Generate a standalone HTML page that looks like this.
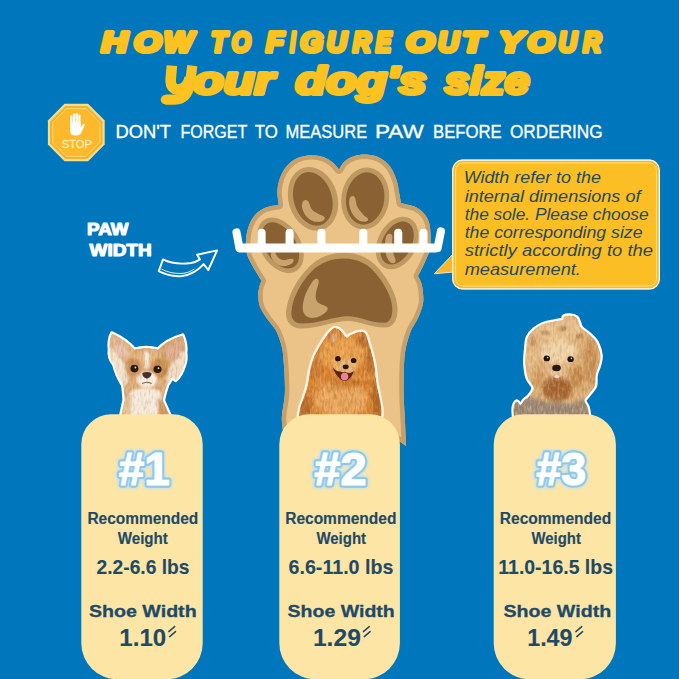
<!DOCTYPE html>
<html>
<head>
<meta charset="utf-8">
<title>How to figure out your dog's size</title>
<style>
  html, body { margin: 0; padding: 0; background: #0076BD; }
  body { width: 679px; height: 679px; overflow: hidden; font-family: "Liberation Sans", sans-serif; }
  svg { display: block; }
  text { font-family: "Liberation Sans", sans-serif; }
</style>
</head>
<body>
<svg width="679" height="679" viewBox="0 0 679 679">
  <defs>
    <filter id="glow" x="-20%" y="-20%" width="140%" height="140%">
      <feGaussianBlur stdDeviation="1.2"/>
    </filter>
  </defs>
  <rect x="0" y="0" width="679" height="679" fill="#0076BD"/>

  <!-- ===== TITLE ===== -->
  <g id="title" fill="#FCC21F" stroke="#FCC21F" stroke-linejoin="round" font-weight="bold" font-style="italic">
    <text id="tl0" x="101.48" y="52.3" font-size="28.6" stroke-width="4.2" textLength="25.84" lengthAdjust="spacingAndGlyphs">H</text>
    <text id="tl1" x="133.95" y="52.3" font-size="28.6" stroke-width="4.2" textLength="27.24" lengthAdjust="spacingAndGlyphs">O</text>
    <text id="tl2" x="163.65" y="52.3" font-size="28.6" stroke-width="4.2" textLength="29.57" lengthAdjust="spacingAndGlyphs">W</text>
    <text id="tl3" x="210.97" y="52.3" font-size="28.6" stroke-width="4.2" textLength="15.71" lengthAdjust="spacingAndGlyphs">T</text>
    <text id="tl4" x="231.78" y="52.3" font-size="28.6" stroke-width="4.2" textLength="18.89" lengthAdjust="spacingAndGlyphs">O</text>
    <text id="tl5" x="265.95" y="52.3" font-size="28.6" stroke-width="4.2" textLength="17.82" lengthAdjust="spacingAndGlyphs">F</text>
    <text id="tl6" x="289.89" y="52.3" font-size="28.6" stroke-width="4.2" textLength="5.35" lengthAdjust="spacingAndGlyphs">I</text>
    <text id="tl7" x="300.27" y="52.3" font-size="28.6" stroke-width="4.2" textLength="22.78" lengthAdjust="spacingAndGlyphs">G</text>
    <text id="tl8" x="326.65" y="52.3" font-size="28.6" stroke-width="4.2" textLength="20.00" lengthAdjust="spacingAndGlyphs">U</text>
    <text id="tl9" x="352.71" y="52.3" font-size="28.6" stroke-width="4.2" textLength="18.22" lengthAdjust="spacingAndGlyphs">R</text>
    <text id="tl10" x="375.65" y="52.3" font-size="28.6" stroke-width="4.2" textLength="15.45" lengthAdjust="spacingAndGlyphs">E</text>
    <text id="tl11" x="406.02" y="52.3" font-size="28.6" stroke-width="4.2" textLength="28.34" lengthAdjust="spacingAndGlyphs">O</text>
    <text id="tl12" x="438.03" y="52.3" font-size="28.6" stroke-width="4.2" textLength="20.77" lengthAdjust="spacingAndGlyphs">U</text>
    <text id="tl13" x="462.38" y="52.3" font-size="28.6" stroke-width="4.2" textLength="21.43" lengthAdjust="spacingAndGlyphs">T</text>
    <text id="tl14" x="498.92" y="52.3" font-size="28.6" stroke-width="4.2" textLength="24.29" lengthAdjust="spacingAndGlyphs">Y</text>
    <text id="tl15" x="527.56" y="52.3" font-size="28.6" stroke-width="4.2" textLength="26.73" lengthAdjust="spacingAndGlyphs">O</text>
    <text id="tl16" x="558.59" y="52.3" font-size="28.6" stroke-width="4.2" textLength="18.37" lengthAdjust="spacingAndGlyphs">U</text>
    <text id="tl17" x="582.91" y="52.3" font-size="28.6" stroke-width="4.2" textLength="18.13" lengthAdjust="spacingAndGlyphs">R</text>
    <g id="ti6" fill="none" stroke-linejoin="round"><path d="M171.9,65.6 L170.7,79 C170.2,86.5 173.6,89.8 178.8,89.4 C184.6,88.9 188.3,84 189.7,77.5" stroke-width="10.6" stroke-linecap="butt"/><path d="M192.3,65.6 L190.2,82 C188.8,93 184.2,99.2 174.5,99.7 L165.3,99.7" stroke-width="10.2" stroke-linecap="butt"/><circle cx="165.3" cy="99.7" r="4.6" fill="#FCC21F" stroke="none"/></g>
    <text id="ti6b" x="193.13" y="94.2" font-size="38.6" stroke-width="3.9" textLength="80.74" lengthAdjust="spacingAndGlyphs">our</text>
    <text id="ti7" x="295.57" y="94.2" font-size="38.6" stroke-width="3.9" textLength="130.83" lengthAdjust="spacingAndGlyphs">dog's</text>
    <text id="ti8" x="444.58" y="94.2" font-size="38.6" stroke-width="3.9" textLength="84.81" lengthAdjust="spacingAndGlyphs">size</text>
  </g>

  <!-- ===== STOP SIGN ===== -->
  <g id="stop">
    <polygon points="64.5,103.8 88.1,103.8 104.7,120.6 104.7,144.4 88.1,161.2 64.5,161.2 47.9,144.4 47.9,120.6" fill="#F4DE90"/>
    <polygon points="65.4,105.9 87.2,105.9 102.6,121.5 102.6,143.5 87.2,159.1 65.4,159.1 50.0,143.5 50.0,121.5" fill="#F5B22A"/>
    <polygon points="66.5,108.6 86.1,108.6 99.9,122.6 99.9,142.4 86.1,156.4 66.5,156.4 52.7,142.4 52.7,122.6" fill="#FBB92B" stroke="#FCE08C" stroke-width="0.8"/>
    <!-- hand -->
    <g fill="#FFFFFF">
      <rect x="70.2" y="115.6" width="2.3" height="10" rx="1.15"/>
      <rect x="72.9" y="113.4" width="2.3" height="12" rx="1.15"/>
      <rect x="75.6" y="112.9" width="2.3" height="12" rx="1.15"/>
      <rect x="78.3" y="114.6" width="2.3" height="11" rx="1.15"/>
      <path d="M70.2,122.5 H80.6 V127.6 L82.6,124.6 Q84.2,122.8 84.8,124.8 L81.8,131.8 Q80.2,135.6 76.6,135.6 H75.2 Q70.2,135.6 70.2,130.4 Z"/>
    </g>
    <text id="stoptxt" x="61.7" y="148.4" font-size="11.7" fill="#FDEBB8" stroke="#FDEBB8" stroke-width="0.3" textLength="30.3" lengthAdjust="spacingAndGlyphs">STOP</text>
  </g>

  <!-- ===== SUBTITLE ===== -->
  <g fill="#FFFFFF" stroke="#FFFFFF" stroke-width="0.35">
    <text id="su1" x="115.58" y="138.1" font-size="18.5" textLength="55.50" lengthAdjust="spacingAndGlyphs">DON'T</text>
    <text id="su2" x="180.40" y="138.1" font-size="18.5" textLength="66.80" lengthAdjust="spacingAndGlyphs">FORGET</text>
    <text id="su3" x="254.80" y="138.1" font-size="18.5" textLength="23.00" lengthAdjust="spacingAndGlyphs">TO</text>
    <text id="su4" x="285.58" y="138.1" font-size="18.5" textLength="81.62" lengthAdjust="spacingAndGlyphs">MEASURE</text>
    <text id="su5" x="375.01" y="138.1" font-size="18.5" textLength="48.81" lengthAdjust="spacingAndGlyphs">PAW</text>
    <text id="su6" x="432.98" y="138.1" font-size="18.5" textLength="68.82" lengthAdjust="spacingAndGlyphs">BEFORE</text>
    <text id="su7" x="510.00" y="138.1" font-size="18.5" textLength="92.61" lengthAdjust="spacingAndGlyphs">ORDERING</text>
  </g>

  <!-- ===== PAW WIDTH LABEL ===== -->
  <g fill="#FFFFFF" stroke="#FFFFFF" stroke-width="1.1" stroke-linejoin="round" font-weight="bold" font-size="15.8">
    <text id="pw1" x="87.06" y="234.5" textLength="41.36" lengthAdjust="spacingAndGlyphs">PAW</text>
    <text id="pw2" x="89.56" y="255.8" textLength="62.07" lengthAdjust="spacingAndGlyphs">WIDTH</text>
  </g>

  <!-- ===== ARROW ===== -->
  <g id="arrow" fill="none" stroke="#FFFFFF" stroke-width="1.95" stroke-linejoin="round" stroke-linecap="round">
    <path d="M163,259.4 C170,263 180,264.5 191,263 C195,262.2 198,260.8 200,259.4 L197.1,254.7 L217.1,250.4 L208.3,270 L203.6,264.1 C198,270.5 190,275 182,276 C173,276.8 165,274.5 158.8,271.2 Z"/>
    <path d="M161.8,269.2 C168,272.6 176,274 184,273.2 C188.5,272.5 191.5,271 194,269.2" stroke-width="0.9"/>
  </g>

  <!-- ===== PAW ===== -->
  <g id="paw">
    <!-- outer outline shape -->
    <defs><path id="pawP" d="M339.0,169.6 C339.9,168.2 341.9,163.8 344.5,161.5 C347.1,159.2 350.8,157.2 354.5,156.0 C358.2,154.8 362.8,154.3 367.0,154.6 C371.2,154.9 376.2,156.0 380.0,158.0 C383.8,160.0 387.2,162.8 390.0,166.5 C392.8,170.2 395.0,175.8 396.5,180.0 C398.0,184.2 398.2,188.1 399.0,192.0 C399.8,195.9 400.7,201.4 401.0,203.3 C402.2,203.6 405.4,204.1 408.0,204.8 C410.6,205.5 413.8,206.1 416.5,207.5 C419.2,208.9 421.9,211.0 424.0,213.5 C426.1,216.0 427.9,218.9 429.0,222.5 C430.1,226.1 430.4,230.6 430.6,235.0 C430.8,239.4 430.7,245.1 430.0,249.0 C429.3,252.9 427.7,255.7 426.5,258.6 C425.3,261.5 424.4,263.3 423.0,266.2 C421.6,269.1 418.8,274.4 418.0,276.0 C418.6,277.2 420.5,280.5 421.3,283.0 C422.1,285.5 422.5,287.6 422.8,291.0 C423.1,294.4 423.8,299.0 423.0,303.5 C422.2,308.0 420.0,313.4 418.0,318.0 C416.0,322.6 412.8,326.1 410.8,331.0 C408.8,335.9 407.1,342.4 406.0,347.2 C404.9,352.0 404.7,354.5 404.3,360.0 C403.9,365.5 403.7,373.7 403.6,380.0 C403.5,386.3 403.6,391.0 403.8,398.0 C404.0,405.0 404.6,414.0 405.0,422.0 C405.4,430.0 405.8,442.0 406.0,446.0 C404.8,445.2 400.2,441.8 399.0,441.0 C379.8,440.3 303.2,437.7 284.0,437.0 C283.6,433.8 281.7,424.8 281.8,418.0 C281.9,411.2 284.2,403.0 284.7,396.0 C285.2,389.0 284.8,382.0 284.6,376.0 C284.4,370.0 283.9,364.8 283.5,360.0 C283.1,355.2 283.1,352.0 281.9,347.2 C280.7,342.4 278.8,335.9 276.2,331.0 C273.6,326.1 269.2,322.1 266.5,318.0 C263.8,313.9 261.4,310.5 260.0,306.7 C258.6,302.9 258.4,298.7 258.3,295.4 C258.2,292.1 258.8,289.4 259.3,287.0 C259.9,284.6 261.2,281.8 261.6,280.8 C260.1,278.4 255.1,270.7 252.7,266.2 C250.3,261.7 248.1,258.4 247.0,254.0 C245.9,249.6 245.7,244.7 246.0,240.0 C246.3,235.3 247.2,230.2 248.8,226.0 C250.4,221.8 252.6,217.6 255.5,214.5 C258.4,211.4 262.1,209.1 266.0,207.5 C269.9,205.9 276.6,205.4 278.7,205.0 C278.5,202.7 277.2,195.5 277.4,191.0 C277.6,186.5 278.5,182.1 280.0,178.0 C281.5,173.9 283.7,169.8 286.5,166.5 C289.3,163.2 292.9,160.2 297.0,158.3 C301.1,156.4 306.5,155.4 311.0,155.2 C315.5,155.0 320.3,156.0 324.0,157.3 C327.7,158.6 330.5,160.8 333.0,162.8 C335.5,164.9 338.0,168.5 339.0,169.6 Z"/><clipPath id="pawClip"><use href="#pawP"/></clipPath></defs>
    <use href="#pawP" fill="#EBC288"/>
    <use href="#pawP" fill="none" stroke="#C6A06A" stroke-width="8.8" stroke-linejoin="round" clip-path="url(#pawClip)"/>

    <!-- top-left toe pad -->
    <g transform="rotate(-16.6 313 198.8)">
      <ellipse cx="313" cy="198.8" rx="24.5" ry="32.4" fill="#BD9861"/>
      <ellipse cx="312.8" cy="198.8" rx="19.1" ry="27.4" fill="#8A6133"/>
    </g>
    <path d="M305.6,200 C308,200 309.2,202.5 310.3,206.5 C311.8,210.5 314,212 321.5,215.3 C324.8,216.6 325.4,218 324.4,219.3 C323.4,221.5 320,222.2 316.2,221.8 C312,221.4 307,218.5 303.8,212.4 C302,208.5 301.6,206 302.1,204 C302.6,201.5 303.8,200 305.6,200 Z" fill="#C8A36E"/>
    <!-- top-right toe pad -->
    <g transform="rotate(8 365.2 198.5)">
      <ellipse cx="365.2" cy="198.5" rx="23.9" ry="31.1" fill="#BD9861"/>
      <ellipse cx="365.2" cy="198.5" rx="19.1" ry="26.3" fill="#8A6133"/>
    </g>
    <path d="M352.7,196.1 C354.6,196.1 355.3,197.4 356.2,203 C357,207 358,209 364.5,215.9 C367.6,217.8 368.8,218.6 368,220 C367,221.8 364.5,222 361,221.2 C357.5,220.2 353.5,216.5 351,211 C349.4,207 348.8,203 349.2,200.3 C349.6,197.6 350.9,196.1 352.7,196.1 Z" fill="#C8A36E"/>
    <!-- left side toe pad -->
    <g transform="rotate(-32 280.4 245.4)">
      <ellipse cx="280.4" cy="245.4" rx="20" ry="30.3" fill="#BD9861"/>
      <ellipse cx="280.4" cy="245.4" rx="15.3" ry="25.5" fill="#8A6133"/>
    </g>
    <path d="M272.5,252 C274.2,251.4 275.5,252.6 276.2,254.6 C278,259 282,261.3 287.5,259.6 C290.5,258.6 293,258 293.6,260.2 C294,262.6 290.5,265.2 286,266 C279,267 273,262.5 271,256.5 C270.3,254.3 271,252.6 272.5,252 Z" fill="#C8A36E"/>
    <!-- right side toe pad -->
    <g transform="rotate(27 397.1 243)">
      <ellipse cx="397.1" cy="243" rx="19.4" ry="27.8" fill="#BD9861"/>
      <ellipse cx="397.1" cy="243" rx="14.6" ry="23" fill="#8A6133"/>
    </g>
    <path d="M388.8,233.8 C391.4,233.2 392.8,235.4 392.4,238.6 C391.6,245.6 392.4,252.4 395,258 C396.2,260.8 395.6,263 393.2,263.2 C390.4,263.2 388,260.4 386.6,256.2 C384.4,249.6 384.6,242.4 385.8,237.4 C386.4,235.2 387.4,234.2 388.8,233.8 Z" fill="#C8A36E"/>

    <!-- main pad -->
    <path fill="#BD9861" stroke="#BD9861" stroke-width="1" stroke-linejoin="round" d="
      M343,253.3
      C 360,253 372,260 381,272
      C 392,286 397.5,300 397,311
      C 396.5,322 392,327 385,327
      C 370,327 360,320.5 347.5,320.5
      C 334,320.5 318,328 301,328
      C 291,328 286,321 286.6,312
      C 288,296 297,280 308,268.5
      C 318,258 330,253.5 343,253.3 Z"/>
    <path fill="#8A6133" d="
      M343,258.5
      C 358,258.3 369,264.5 377.5,275.5
      C 387.5,288.5 392.7,301 392.3,310.5
      C 392,319.5 388.5,322.8 383.5,322.8
      C 370,322.8 359.5,316.2 347.5,316.2
      C 334.5,316.2 318.5,323.6 302,323.6
      C 294.5,323.6 290.8,318.5 291.4,312
      C 292.5,297.5 301,282.5 311.5,271.5
      C 320.5,262.5 331.5,258.7 343,258.5 Z"/>
    <path fill="#C8A36E" d="
      M315.5,279
      C 318.5,278 319.3,281 318.3,284.5
      C 315.5,293 314.5,298 317.5,302
      C 320.5,305 325.5,305 327.5,307.5
      C 328.5,310.5 325,313.5 319,316.5
      C 312,319.5 305,318 303,311
      C 301.5,303 306,291 311.5,283
      C 313,280.5 314,279.5 315.5,279 Z"/>

    <!-- ruler -->
    <g fill="#FFFFFF" stroke="none">
      <rect x="237" y="243.5" width="201.5" height="8.9" rx="2.5"/>
      <g stroke="#FFFFFF" stroke-width="8.1" stroke-linecap="round" fill="none">
        <path d="M236.5,232.4 L239.4,248"/>
        <path d="M440.9,231.4 L437.6,248"/>
        <path d="M261.6,232.8 V247"/>
        <path d="M289.6,232.8 V247"/>
        <path d="M321.4,232.8 V247"/>
        <path d="M363.3,232.8 V247"/>
        <path d="M398.2,232.8 V247"/>
        <path d="M423.5,232.8 V247"/>
      </g>
    </g>
  </g>

  <!-- ===== CALLOUT ===== -->
  <g id="callout">
    <path d="M453.5,253.5 L434.2,273.8 L456,271.8 Z" fill="#F8B72C" stroke="#FFFDF0" stroke-width="0.8"/>
    <rect x="452.2" y="159.6" width="207.7" height="129.9" rx="10.5" fill="#F8B72C"/>
    <rect x="452.8" y="160.2" width="206.5" height="128.7" rx="10" fill="none" stroke="#FFFDF0" stroke-width="1.2"/>
    <rect x="455.6" y="163" width="200.9" height="123.1" rx="7.5" fill="#FBBE24"/>
    <rect x="455.6" y="163" width="200.9" height="123.1" rx="7.5" fill="none" stroke="#FFE48A" stroke-width="1"/>
    <g font-style="italic" font-size="16.6" fill="#27495C" lengthAdjust="spacingAndGlyphs">
      <text id="co1" x="463.70" y="183.2" textLength="137.21" lengthAdjust="spacingAndGlyphs">Width refer to the</text>
      <text id="co2" x="464.70" y="201.5" textLength="175.80" lengthAdjust="spacingAndGlyphs">internal dimensions of</text>
      <text id="co3" x="464.69" y="219.8" textLength="183.91" lengthAdjust="spacingAndGlyphs">the sole. Please choose</text>
      <text id="co4" x="464.70" y="238.1" textLength="177.82" lengthAdjust="spacingAndGlyphs">the corresponding size</text>
      <text id="co5" x="464.70" y="256.4" textLength="188.32" lengthAdjust="spacingAndGlyphs">strictly according to the</text>
      <text id="co6" x="464.68" y="274.7" textLength="116.18" lengthAdjust="spacingAndGlyphs">measurement.</text>
    </g>
  </g>

  <!-- ===== DOGS ===== -->
  <defs>
    <filter id="soft" x="-10%" y="-10%" width="120%" height="120%"><feGaussianBlur stdDeviation="1.1"/></filter>
    <filter id="soft2" x="-10%" y="-10%" width="120%" height="120%"><feGaussianBlur stdDeviation="2"/></filter>
    <filter id="furL" x="0" y="0" width="100%" height="100%" color-interpolation-filters="sRGB">
      <feTurbulence type="fractalNoise" baseFrequency="0.5 0.16" numOctaves="2" seed="4" result="n"/>
      <feColorMatrix in="n" type="matrix" values="0 0 0 0 1  0 0 0 0 0.93  0 0 0 0 0.78  1.8 0 0 0 -0.75"/>
      <feComposite operator="in" in2="SourceGraphic"/>
    </filter>
    <filter id="furD" x="0" y="0" width="100%" height="100%" color-interpolation-filters="sRGB">
      <feTurbulence type="fractalNoise" baseFrequency="0.45 0.15" numOctaves="2" seed="11" result="n"/>
      <feColorMatrix in="n" type="matrix" values="0 0 0 0 0.45  0 0 0 0 0.22  0 0 0 0 0.05  0 1.8 0 0 -0.78"/>
      <feComposite operator="in" in2="SourceGraphic"/>
    </filter>
    <path id="chiSil" d="M121,416 L124.5,400 C124,392 123.5,388 123,385 C119,379 116,372 114,364 C110,360 109,354 109.8,350 C109,343 110,337 112,333.4 C120,337 129,343 134.5,349.5 C142,347.5 151,347.5 158,349.5 C164,343 174,338 182.6,335.5 C185,341 186,347 185.3,353 C186,358 185.5,362 184,365.6 C182,372 179,377 175.6,380 L172,377 C170,381 168.5,383 167.2,385.2 C165,392 163.5,397 163,400.6 L170,416 Z"/>
    <clipPath id="chiClip"><use href="#chiSil"/></clipPath>
    <path id="pomSil" d="M298.8,416.5 C299.1,414.9 299.8,409.8 300.5,407.0 C301.2,404.2 302.1,403.2 303.3,399.5 C304.5,395.8 306.6,389.5 307.7,384.8 C308.8,380.1 308.9,375.9 309.9,371.5 C310.9,367.1 312.0,362.5 313.6,358.3 C315.2,354.1 317.4,350.2 319.5,346.5 C321.6,342.8 324.2,338.9 326.1,336.2 C328.0,333.5 329.6,331.9 331.0,330.5 C332.4,329.1 333.1,328.4 334.2,328.1 C335.3,327.8 336.4,328.1 337.5,328.6 C338.6,329.1 339.3,329.5 340.8,331.0 C342.3,332.5 345.2,337.0 346.7,337.7 C348.2,338.4 348.6,335.9 350.0,335.2 C351.4,334.5 353.1,333.9 354.8,333.3 C356.5,332.7 358.4,331.9 360.0,331.8 C361.6,331.7 363.3,331.6 364.4,332.5 C365.5,333.4 366.1,335.1 366.8,337.0 C367.5,338.9 368.0,340.8 368.8,343.6 C369.6,346.4 370.7,350.0 371.7,353.9 C372.7,357.8 373.9,362.4 374.7,367.1 C375.4,371.8 375.5,377.0 376.2,381.9 C376.9,386.8 378.2,392.2 379.1,396.6 C380.0,401.0 380.9,405.1 381.3,408.4 C381.7,411.7 381.3,415.1 381.3,416.5 Z"/>
    <clipPath id="pomClip"><use href="#pomSil"/></clipPath>
    <path id="yorkSil" d="M513.9,416.5 C513.9,415.2 513.5,411.1 513.6,409.0 C513.7,406.9 514.1,405.2 514.7,404.0 C515.3,402.8 516.2,401.4 517.2,401.6 C518.2,401.8 519.2,405.5 520.4,405.2 C521.6,404.9 523.0,401.6 524.5,400.0 C526.0,398.4 527.8,397.9 529.3,395.9 C530.8,393.9 533.7,390.8 533.4,387.8 C533.1,384.8 529.1,382.2 527.7,378.1 C526.4,374.1 525.6,368.4 525.3,363.5 C525.0,358.6 525.7,353.2 526.1,348.9 C526.5,344.6 526.4,340.8 527.7,337.5 C529.1,334.2 531.5,331.7 534.2,329.4 C536.9,327.1 540.4,325.1 543.9,323.8 C547.4,322.5 552.1,322.0 555.2,321.3 C558.3,320.6 561.0,320.5 562.5,319.7 C564.0,318.9 562.9,317.2 564.1,316.5 C565.3,315.8 567.8,315.4 569.8,315.5 C571.8,315.6 574.8,316.2 576.3,317.3 C577.8,318.4 578.1,320.4 578.9,322.2 C579.7,323.9 579.5,325.8 581.2,327.8 C582.9,329.8 586.7,331.9 589.3,334.3 C591.9,336.7 594.7,338.9 596.6,342.4 C598.5,345.9 600.2,351.6 600.6,355.4 C601.0,359.2 599.8,361.9 599.0,365.1 C598.2,368.3 596.4,371.3 595.7,374.8 C595.0,378.3 596.2,382.7 594.9,386.2 C593.5,389.7 589.4,393.5 587.6,395.9 C585.9,398.3 584.4,398.8 584.4,400.7 C584.4,402.6 586.8,404.6 587.6,407.2 C588.4,409.8 589.0,414.9 589.3,416.5 Z"/>
    <clipPath id="yorkClip"><use href="#yorkSil"/></clipPath>
    <radialGradient id="pomG" cx="345" cy="365" r="45" gradientUnits="userSpaceOnUse">
      <stop offset="0" stop-color="#E39A45"/><stop offset="0.55" stop-color="#D5842F"/><stop offset="1" stop-color="#B9641E"/>
    </radialGradient>
  </defs>

  <!-- Chihuahua -->
  <g id="chi">
    <use href="#chiSil" fill="#FFFFFF" stroke="#FFFFFF" stroke-width="4.2" stroke-linejoin="round"/>
    <g clip-path="url(#chiClip)">
      <use href="#chiSil" fill="#DDAE7A"/>
      <g filter="url(#soft)">
        <!-- ear fringe (cream) -->
        <path d="M108,346 L116,352 L126,366 L128,382 L122,388 L112,368 Z" fill="#F4E6D2"/>
        <path d="M187,348 L179,354 L169,368 L166,384 L172,390 L184,370 Z" fill="#F1E0C8"/>
        <!-- ears outer -->
        <path d="M112,333.4 C120,337 129,343 134.5,349.5 L126,362 L116,354 C111,348 110.5,340 112,333.4 Z" fill="#E2B88C"/>
        <path d="M182.6,335.5 C174,338 164,343 158,349.5 L167,363 L178,356 C184,349 184.5,342 182.6,335.5 Z" fill="#D9A875"/>
        <!-- ears inner pink -->
        <path d="M115,339.5 C120,343 125.5,347.5 129,353 C125.5,356.5 121,358.5 118,358.5 C114.5,353 114,345.5 115,339.5 Z" fill="#EAC3AE"/>
        <path d="M180,341 C174.5,344 168.5,348.5 164.5,354 C168.5,358 173.5,360 177,360 C181,354 181.5,347 180,341 Z" fill="#E2AE96"/>
        <!-- forehead -->
        <ellipse cx="146" cy="357" rx="14" ry="7" fill="#E2B27C"/>
        <!-- darker patches around eyes -->
        <ellipse cx="133" cy="367" rx="8" ry="9.5" fill="#CF9458"/>
        <ellipse cx="160" cy="368" rx="8.5" ry="10" fill="#C98C50"/>
        <!-- blaze -->
        <path d="M144.6,352 C147,351.6 149,352.2 149.6,354 L148.4,369 L145.4,369 L144.2,354 Z" fill="#FFF3E3"/>
        <!-- muzzle -->
        <ellipse cx="146.9" cy="379.8" rx="10.2" ry="8.2" fill="#FBF0E4"/>
        <!-- chest -->
        <path d="M130,392 C136,387 157,387 161,392 L163,418 L127,418 Z" fill="#F8ECDD"/>
        <path d="M158,397 L164,403 L170,418 L158,418 Z" fill="#CF9A62"/>
        <path d="M125,398 L131,395 L131,418 L121,418 Z" fill="#E6C29A"/>
      </g>
      <rect x="106" y="330" width="82" height="88" fill="#fff" filter="url(#furL)" opacity="0.3"/>
      <rect x="106" y="330" width="82" height="88" fill="#fff" filter="url(#furD)" opacity="0.25"/>
      <!-- eyes + nose -->
      <ellipse cx="134.4" cy="368.6" rx="4" ry="3.8" fill="#2A1A12"/>
      <ellipse cx="157.5" cy="369.3" rx="4" ry="3.8" fill="#2A1A12"/>
      <circle cx="135.4" cy="367.5" r="0.9" fill="#FFFFFF" opacity="0.85"/>
      <circle cx="158.5" cy="368.2" r="0.9" fill="#FFFFFF" opacity="0.85"/>
      <path d="M142.3,373 Q146.9,370.8 151.5,373 Q151.8,377.2 146.9,378.8 Q142,377.2 142.3,373 Z" fill="#4A2E2A"/>
      <path d="M142,383.4 Q146.9,381 151.8,383.4" fill="none" stroke="#7A5547" stroke-width="1"/>
    </g>
  </g>

  <!-- Pomeranian -->
  <g id="pom">
    <use href="#pomSil" fill="#FFF6EA" stroke="#FFF6EA" stroke-width="4.6" stroke-linejoin="round"/>
    <g clip-path="url(#pomClip)">
      <use href="#pomSil" fill="#DC8430"/>
      <g filter="url(#soft2)">
        <ellipse cx="343" cy="353" rx="23" ry="17" fill="#EBA04C"/>
        <ellipse cx="341" cy="399" rx="27" ry="18" fill="#EAA55A"/>
        <ellipse cx="305" cy="408" rx="7" ry="14" fill="#B96A27"/>
        <ellipse cx="377" cy="398" rx="6" ry="20" fill="#B76724"/>
        <ellipse cx="370" cy="360" rx="5" ry="14" fill="#BE6E2A"/>
        <ellipse cx="316" cy="366" rx="5" ry="14" fill="#CE7D30"/>
        <ellipse cx="362" cy="341" rx="5" ry="7" fill="#B96A2A"/>
        <ellipse cx="333" cy="338" rx="4" ry="6" fill="#C77A3A"/>
        <ellipse cx="345" cy="383" rx="16" ry="5" fill="#C9772B"/>
      </g>
      <g filter="url(#soft)">
        <ellipse cx="345.5" cy="367" rx="11.5" ry="7.5" fill="#EDB674"/>
        <ellipse cx="334" cy="337.5" rx="2.2" ry="4" fill="#E7B79A"/>
      </g>
      <rect x="296" y="326" width="88" height="92" fill="#fff" filter="url(#furL)" opacity="0.42"/>
      <rect x="296" y="326" width="88" height="92" fill="#fff" filter="url(#furD)" opacity="0.36"/>
      <ellipse cx="337.9" cy="358.7" rx="2.8" ry="2.6" fill="#24140C"/>
      <ellipse cx="353.6" cy="360.5" rx="2.8" ry="2.6" fill="#24140C"/>
      <ellipse cx="345.7" cy="366.8" rx="3" ry="2.4" fill="#2B1A14"/>
      <path d="M332.6,367.6 Q336,371.6 340,371.6 Q343,372.8 345.3,372 Q348,373.4 350.6,372.8 Q352.6,372.4 353.8,370.8 Q352.6,376 349.4,378.4 Q347,380.9 344.6,380.9 Q341.2,380.6 339.4,378.2 Q335.4,374.6 332.6,367.6 Z" fill="#5A2418"/>
      <ellipse cx="344.6" cy="376.6" rx="3.7" ry="3.8" fill="#E98499"/>
    </g>
  </g>

  <!-- Yorkie -->
  <g id="york">
    <use href="#yorkSil" fill="#FFFFFF" stroke="#FFFFFF" stroke-width="4.4" stroke-linejoin="round"/>
    <g clip-path="url(#yorkClip)">
      <use href="#yorkSil" fill="#DDAE76"/>
      <g filter="url(#soft2)">
        <path d="M508,420 L512,401 L530,396 L545,402 L572,403 L588,398 L594,420 Z" fill="#9A8673"/>
        <ellipse cx="558" cy="331" rx="24" ry="11" fill="#E8C08C"/>
        <ellipse cx="591" cy="362" rx="7" ry="24" fill="#C98F55"/>
        <ellipse cx="531" cy="360" rx="6" ry="22" fill="#E4BA84"/>
        <ellipse cx="558" cy="352" rx="19" ry="12" fill="#F1D4A8"/>
        <ellipse cx="557" cy="389" rx="15" ry="12" fill="#A4622F"/>
        <ellipse cx="577" cy="377" rx="7" ry="11" fill="#C4874C"/>
        <ellipse cx="538" cy="377" rx="6" ry="11" fill="#D29A5F"/>
      </g>
      <g filter="url(#soft)">
        <ellipse cx="556.8" cy="371" rx="9" ry="5.5" fill="#E6C394"/>
        <ellipse cx="570" cy="322" rx="6.5" ry="5.5" fill="#E5BE8C"/>
        <ellipse cx="563" cy="328.5" rx="3.5" ry="2.5" fill="#A87A4C"/>
        <ellipse cx="545" cy="333" rx="4" ry="2.5" fill="#BC8E5C"/>
        <ellipse cx="580" cy="336" rx="4" ry="2.5" fill="#B78653"/>
        <ellipse cx="533" cy="342" rx="3" ry="4" fill="#C59663"/>
      </g>
      <rect x="510" y="312" width="94" height="106" fill="#fff" filter="url(#furL)" opacity="0.5"/>
      <rect x="510" y="312" width="94" height="106" fill="#fff" filter="url(#furD)" opacity="0.26"/>
      <ellipse cx="546.8" cy="358.4" rx="3.2" ry="2.9" fill="#22140E"/>
      <ellipse cx="570.6" cy="359.2" rx="3.2" ry="2.9" fill="#22140E"/>
      <circle cx="547.6" cy="357.6" r="0.8" fill="#fff" opacity="0.8"/>
      <circle cx="571.4" cy="358.4" r="0.8" fill="#fff" opacity="0.8"/>
      <ellipse cx="556.5" cy="368" rx="4.3" ry="3.3" fill="#2A1A16"/>
      <ellipse cx="556.9" cy="376.6" rx="2.8" ry="1.3" fill="#F2DDD2"/>
    </g>
  </g>

  <!-- ===== CARDS ===== -->
  <g id="cards">
    <g id="card1">
      <path d="M81.3,444.2 A30,30 0 0 1 111.3,414.2 H172.7 A30,30 0 0 1 202.7,444.2 V643.2 A36,36 0 0 1 166.7,679.2 H117.3 A36,36 0 0 1 81.3,643.2 Z" fill="#FDE5A6"/>
      <g font-weight="bold" stroke-linejoin="round">
        <text id="c1ng" x="118.66" y="484.8" font-size="46" fill="none" stroke="#BFE3F5" stroke-width="7.6" filter="url(#glow)" textLength="50.98" lengthAdjust="spacingAndGlyphs">#1</text>
        <text id="c1nb" x="118.66" y="484.8" font-size="46" fill="none" stroke="#8FC9EA" stroke-width="5.4" textLength="50.98" lengthAdjust="spacingAndGlyphs">#1</text>
        <text id="c1nw" x="118.66" y="484.8" font-size="46" fill="#FFFFFF" stroke="#FFFFFF" stroke-width="1.2" textLength="50.98" lengthAdjust="spacingAndGlyphs">#1</text>
      </g>
      <g fill="#1F4A66" stroke="#1F4A66" font-weight="bold">
        <text id="c1r" x="87.38" y="523.8" font-size="15.6" stroke-width="0.15" textLength="110.83" lengthAdjust="spacingAndGlyphs">Recommended</text>
        <text id="c1w" x="117.78" y="544.4" font-size="15.6" stroke-width="0.15" textLength="50.06" lengthAdjust="spacingAndGlyphs">Weight</text>
        <text id="c1l" x="96.59" y="574.2" font-size="19.3" stroke-width="0.1" textLength="92.81" lengthAdjust="spacingAndGlyphs">2.2-6.6 lbs</text>
        <text id="c1s" x="89.00" y="617.3" font-size="16.9" stroke-width="0.3" textLength="107.60" lengthAdjust="spacingAndGlyphs">Shoe Width</text>
        <text id="c1v" x="119.35" y="646.2" font-size="23" stroke-width="0.1" textLength="46.90" lengthAdjust="spacingAndGlyphs">1.10</text>
        <path id="c1p" d="M168.8,631.6 l5.8,-5 M169.7,636.6 l5.8,-5" fill="none" stroke-width="1.5" stroke-linecap="round"/>
      </g>
    </g>
    <g id="card2">
      <path d="M279.3,444.2 A30,30 0 0 1 309.3,414.2 H369.9 A30,30 0 0 1 399.9,444.2 V643.2 A36,36 0 0 1 363.9,679.2 H315.3 A36,36 0 0 1 279.3,643.2 Z" fill="#FDE5A6"/>
      <g font-weight="bold" stroke-linejoin="round">
        <text id="c2ng" x="314.35" y="484.8" font-size="46" fill="none" stroke="#BFE3F5" stroke-width="7.6" filter="url(#glow)" textLength="52.15" lengthAdjust="spacingAndGlyphs">#2</text>
        <text id="c2nb" x="314.35" y="484.8" font-size="46" fill="none" stroke="#8FC9EA" stroke-width="5.4" textLength="52.15" lengthAdjust="spacingAndGlyphs">#2</text>
        <text id="c2nw" x="314.35" y="484.8" font-size="46" fill="#FFFFFF" stroke="#FFFFFF" stroke-width="1.2" textLength="52.15" lengthAdjust="spacingAndGlyphs">#2</text>
      </g>
      <g fill="#1F4A66" stroke="#1F4A66" font-weight="bold">
        <text id="c2r" x="285.18" y="523.8" font-size="15.6" stroke-width="0.15" textLength="111.22" lengthAdjust="spacingAndGlyphs">Recommended</text>
        <text id="c2w" x="316.38" y="544.4" font-size="15.6" stroke-width="0.15" textLength="49.65" lengthAdjust="spacingAndGlyphs">Weight</text>
        <text id="c2l" x="288.57" y="574.2" font-size="19.3" stroke-width="0.1" textLength="104.80" lengthAdjust="spacingAndGlyphs">6.6-11.0 lbs</text>
        <text id="c2s" x="287.60" y="617.3" font-size="16.9" stroke-width="0.3" textLength="107.21" lengthAdjust="spacingAndGlyphs">Shoe Width</text>
        <text id="c2v" x="312.93" y="646.2" font-size="23" stroke-width="0.1" textLength="47.92" lengthAdjust="spacingAndGlyphs">1.29</text>
        <path id="c2p" d="M363.4,631.6 l5.8,-5 M364.3,636.6 l5.8,-5" fill="none" stroke-width="1.5" stroke-linecap="round"/>
      </g>
    </g>
    <g id="card3">
      <path d="M493.7,444.2 A30,30 0 0 1 523.7,414.2 H585.9 A30,30 0 0 1 615.9,444.2 V643.2 A36,36 0 0 1 579.9,679.2 H529.7 A36,36 0 0 1 493.7,643.2 Z" fill="#FDE5A6"/>
      <g font-weight="bold" stroke-linejoin="round">
        <text id="c3ng" x="536.29" y="484.8" font-size="46" fill="none" stroke="#BFE3F5" stroke-width="7.6" filter="url(#glow)" textLength="49.83" lengthAdjust="spacingAndGlyphs">#3</text>
        <text id="c3nb" x="536.29" y="484.8" font-size="46" fill="none" stroke="#8FC9EA" stroke-width="5.4" textLength="49.83" lengthAdjust="spacingAndGlyphs">#3</text>
        <text id="c3nw" x="536.29" y="484.8" font-size="46" fill="#FFFFFF" stroke="#FFFFFF" stroke-width="1.2" textLength="49.83" lengthAdjust="spacingAndGlyphs">#3</text>
      </g>
      <g fill="#1F4A66" stroke="#1F4A66" font-weight="bold">
        <text id="c3r" x="499.78" y="523.8" font-size="15.6" stroke-width="0.15" textLength="111.42" lengthAdjust="spacingAndGlyphs">Recommended</text>
        <text id="c3w" x="531.56" y="544.4" font-size="15.6" stroke-width="0.15" textLength="49.31" lengthAdjust="spacingAndGlyphs">Weight</text>
        <text id="c3l" x="498.35" y="574.2" font-size="19.3" stroke-width="0.1" textLength="114.62" lengthAdjust="spacingAndGlyphs">11.0-16.5 lbs</text>
        <text id="c3s" x="503.40" y="617.3" font-size="16.9" stroke-width="0.3" textLength="107.80" lengthAdjust="spacingAndGlyphs">Shoe Width</text>
        <text id="c3v" x="527.20" y="646.2" font-size="23" stroke-width="0.1" textLength="45.34" lengthAdjust="spacingAndGlyphs">1.49</text>
        <path id="c3p" d="M575.9,631.6 l5.8,-5 M576.8,636.6 l5.8,-5" fill="none" stroke-width="1.5" stroke-linecap="round"/>
      </g>
    </g>
  </g>
</svg>
</body>
</html>
